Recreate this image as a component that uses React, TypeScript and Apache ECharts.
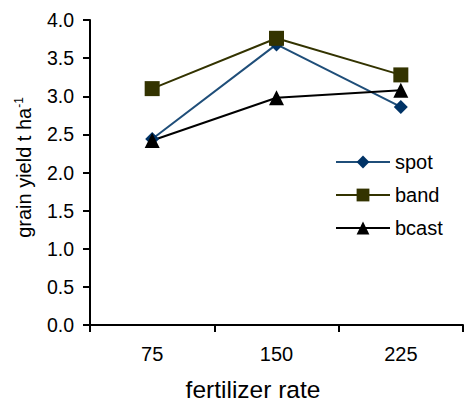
import React, { useEffect, useRef } from "react";
import * as echarts from "echarts";

const categories = ["75", "150", "225"];
const spot = [2.44, 3.68, 2.86];
const band = [3.1, 3.76, 3.28];
const bcast = [2.42, 2.98, 3.08];

export default function App() {
  const ref = useRef<HTMLDivElement>(null);
  useEffect(() => {
    document.body.style.margin = "0";
    document.body.style.overflow = "hidden";
    const chart = echarts.init(ref.current!, null, { renderer: "svg" });
    const font = "Liberation Sans, Arial, sans-serif";
    chart.setOption({
      animation: false,
      textStyle: { fontFamily: font },
      grid: { left: 90, right: 1, top: 20, bottom: 78, containLabel: false },
      xAxis: {
        type: "category",
        data: categories,
        boundaryGap: true,
        axisLine: { lineStyle: { color: "#000", width: 2 } },
        axisTick: { show: true, length: 7, lineStyle: { color: "#000", width: 2 } },
        axisLabel: { color: "#000", fontSize: 20, margin: 19, fontFamily: font },
      },
      yAxis: {
        type: "value",
        min: 0,
        max: 4,
        interval: 0.5,
        axisLine: { show: true, lineStyle: { color: "#000", width: 2 } },
        axisTick: { show: true, length: 7, lineStyle: { color: "#000", width: 2 } },
        splitLine: { show: false },
        axisLabel: {
          color: "#000",
          fontSize: 19.5,
          margin: 16,
          fontFamily: font,
          formatter: (v: number) => v.toFixed(1),
        },
        name: "{a|grain yield t ha}{s|-1}",
        nameLocation: "middle",
        nameRotate: 90,
        nameGap: 55,
        nameTextStyle: {
          fontSize: 20,
          color: "#000",
          fontFamily: font,
          padding: [0, 0, 0, 10],
          rich: {
            a: { fontSize: 20, color: "#000", fontFamily: font, lineHeight: 22 },
            s: { fontSize: 12, color: "#000", fontFamily: font, verticalAlign: "top", lineHeight: 22 },
          },
        },
      },
      legend: {
        orient: "vertical",
        left: 335,
        top: 152,
        padding: 0,
        itemWidth: 54,
        itemHeight: 16,
        itemGap: 13,
        textStyle: { fontSize: 20, color: "#000", fontFamily: font },
        data: ["spot", "band", "bcast"],
      },
      graphic: [
        {
          type: "text",
          x: 253,
          y: 389,
          style: {
            text: "fertilizer rate",
            fontSize: 24.5,
            fill: "#000",
            fontFamily: font,
            align: "center",
            verticalAlign: "middle",
          },
        },
      ],
      series: [
        {
          name: "spot",
          type: "line",
          data: spot,
          symbol: "diamond",
          symbolSize: 14,
          lineStyle: { color: "#1f4e79", width: 2 },
          itemStyle: { color: "#003366" },
        },
        {
          name: "band",
          type: "line",
          data: band,
          symbol: "rect",
          symbolSize: 15,
          lineStyle: { color: "#333300", width: 2 },
          itemStyle: { color: "#333300" },
        },
        {
          name: "bcast",
          type: "line",
          data: bcast,
          symbol: "triangle",
          symbolSize: 15,
          lineStyle: { color: "#000", width: 2 },
          itemStyle: { color: "#000" },
        },
      ],
    });
    return () => chart.dispose();
  }, []);
  return <div ref={ref} style={{ width: 464, height: 403 }} />;
}
